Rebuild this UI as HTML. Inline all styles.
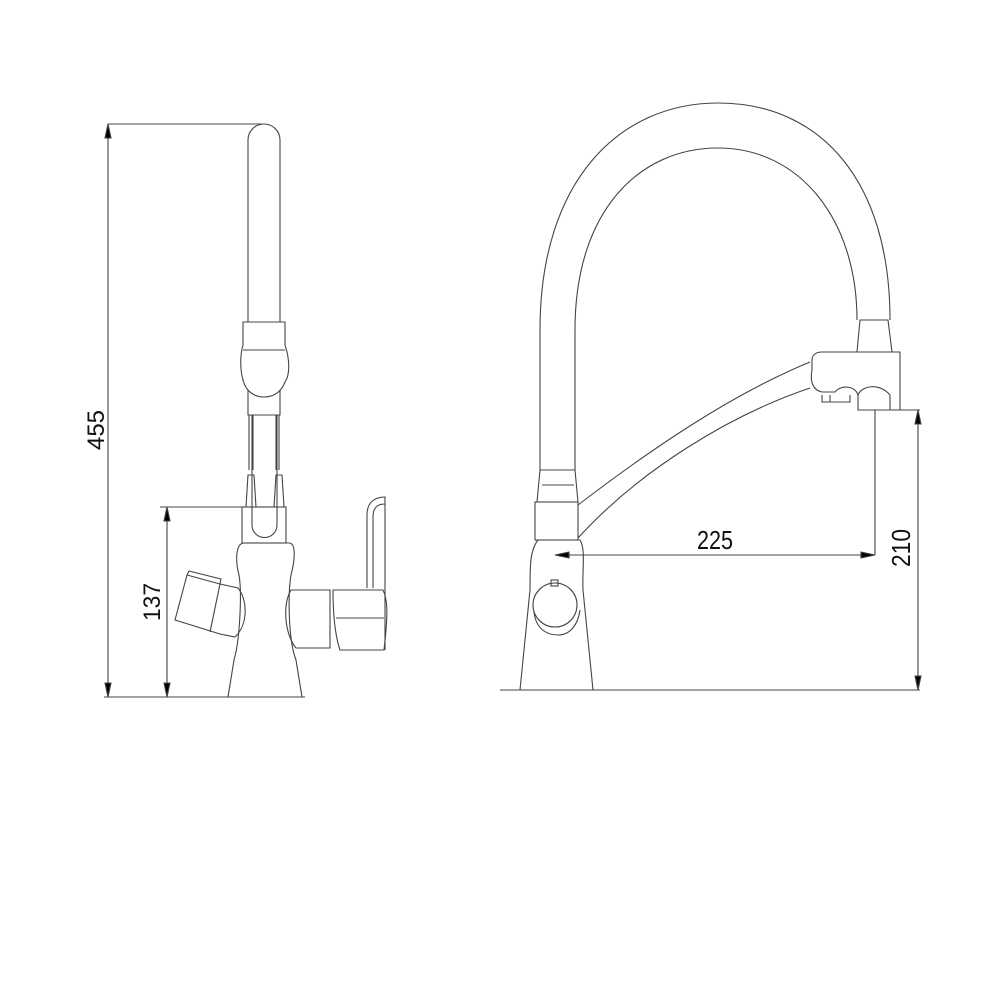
<!DOCTYPE html>
<html><head><style>body{margin:0;background:#fff}svg{display:block}text{font-family:"Liberation Sans",sans-serif}</style></head>
<body>
<svg width="1000" height="1000" viewBox="0 0 1000 1000" fill="none" stroke="#444" stroke-width="1.1">
<!-- left dims -->
<line x1="108" y1="124" x2="262" y2="124"/>
<line x1="108" y1="124" x2="108" y2="697"/>
<line x1="104" y1="697" x2="172" y2="697"/>
<path d="M108,124 l-3,14 h6z M108,697 l-3,-14 h6z" fill="#000"/>
<text x="0" y="0" transform="translate(104,430) rotate(-90)" font-size="24" fill="#111" stroke="none" text-anchor="middle" textLength="40" lengthAdjust="spacingAndGlyphs">455</text>
<line x1="160" y1="507" x2="243" y2="507"/>
<line x1="167" y1="507" x2="167" y2="697"/>
<path d="M167,507 l-3,14 h6z M167,697 l-3,-14 h6z" fill="#000"/>
<text transform="translate(160,602) rotate(-90)" font-size="24" fill="#111" stroke="none" text-anchor="middle" textLength="38" lengthAdjust="spacingAndGlyphs">137</text>
<line x1="172" y1="697" x2="305" y2="697"/>
<!-- left faucet spout -->
<path d="M248,322 V140 A16,16 0 0 1 280,140 V322"/>
<path d="M243,322 H285 V345 C290,360 290,375 285,382 C280,395 270,397 264,397 C255,397 246,392 243,380 C240,370 240,355 243,345Z"/>
<line x1="243" y1="350" x2="285" y2="350"/>
<path d="M248,390 V415 H280 V390"/>
<path d="M249,415 V470 M253,415 V470 M276,415 V470 M279,415 V470"/>
<path d="M246,507 L248,475 H254 L256,507 M274,507 L276,475 H282 L284,507"/>
<rect x="242" y="507" width="44" height="36"/>
<path d="M252,415 V525 A12,12 0 0 0 277,525 V415"/>
<!-- body -->
<path d="M243,543 H290 C296,545 295,560 291,575 C288,592 288,640 296,660 L302,697 H228 L234,660 C240,640 242,592 239,575 C235,560 236,545 243,543Z"/>
<!-- left handle -->
<path d="M187,575 L220,584 L238,588 C248,600 248,625 235,637 L220,634 L175,620Z"/>
<line x1="220" y1="584" x2="210" y2="632"/>
<path d="M187,575 L189,571 L221,579 L220,584"/>
<!-- right handle -->
<path d="M291,590 H330 V648 H296 C285,635 282,605 291,590Z"/>
<path d="M333,590 H383 C388,600 388,615 384,650 H340 C335,635 333,615 333,590Z"/>
<line x1="336" y1="618" x2="384" y2="618"/>
<path d="M367,588 V515 C367,502 375,497 385,497 V650 M373,588 V517 C373,507 378,504 385,504"/>
<!-- right faucet -->
<line x1="500" y1="690" x2="920" y2="690"/>
<path d="M540,470 V330 C540,180 620,103 718,103 C820,103 890,180 890,320"/>
<path d="M575,470 V330 C575,210 640,148 718,148 C800,148 857,220 857,320"/>
<path d="M540,470 H575 L578,502 H537Z"/>
<line x1="542" y1="485" x2="574" y2="485"/>
<rect x="535" y="502" width="43" height="38"/>
<path d="M860,320 H888 L892,352 H857Z"/>
<path d="M538,540 H580 C586,550 582,570 583,590 L593,690 H520 L530,590 C530,565 530,550 538,540Z"/>
<circle cx="555" cy="605" r="22"/>
<path d="M534,612 C536,630 548,635 558,635 C570,635 578,625 580,610"/>
<rect x="551" y="580" width="7" height="6"/>
<path d="M578,505 C650,450 730,395 810,362 M578,538 C640,470 730,415 810,388"/>
<path d="M822,352 H900 V410 H858 V395 C855,385 840,385 835,392 H822 C812,390 810,380 812,370 V360 C812,355 816,352 822,352Z"/>
<path d="M858,395 C862,385 880,383 890,395 V410"/>
<path d="M822,395 V402 H850 V395 M830,395 V402"/>
<!-- 225 -->
<line x1="555" y1="555" x2="875" y2="555"/>
<line x1="875" y1="410" x2="875" y2="555"/>
<path d="M555,555 l14,-3 v6z M875,555 l-14,-3 v6z" fill="#000"/>
<text x="715" y="549" font-size="26" fill="#111" stroke="none" text-anchor="middle" textLength="36" lengthAdjust="spacingAndGlyphs">225</text>
<!-- 210 -->
<line x1="892" y1="410" x2="920" y2="410"/>
<line x1="918" y1="410" x2="918" y2="690"/>
<path d="M918,410 l-3,14 h6z M918,690 l-3,-14 h6z" fill="#000"/>
<text transform="translate(910,548) rotate(-90)" font-size="26" fill="#111" stroke="none" text-anchor="middle" textLength="38" lengthAdjust="spacingAndGlyphs">210</text>
</svg>
</body></html>
